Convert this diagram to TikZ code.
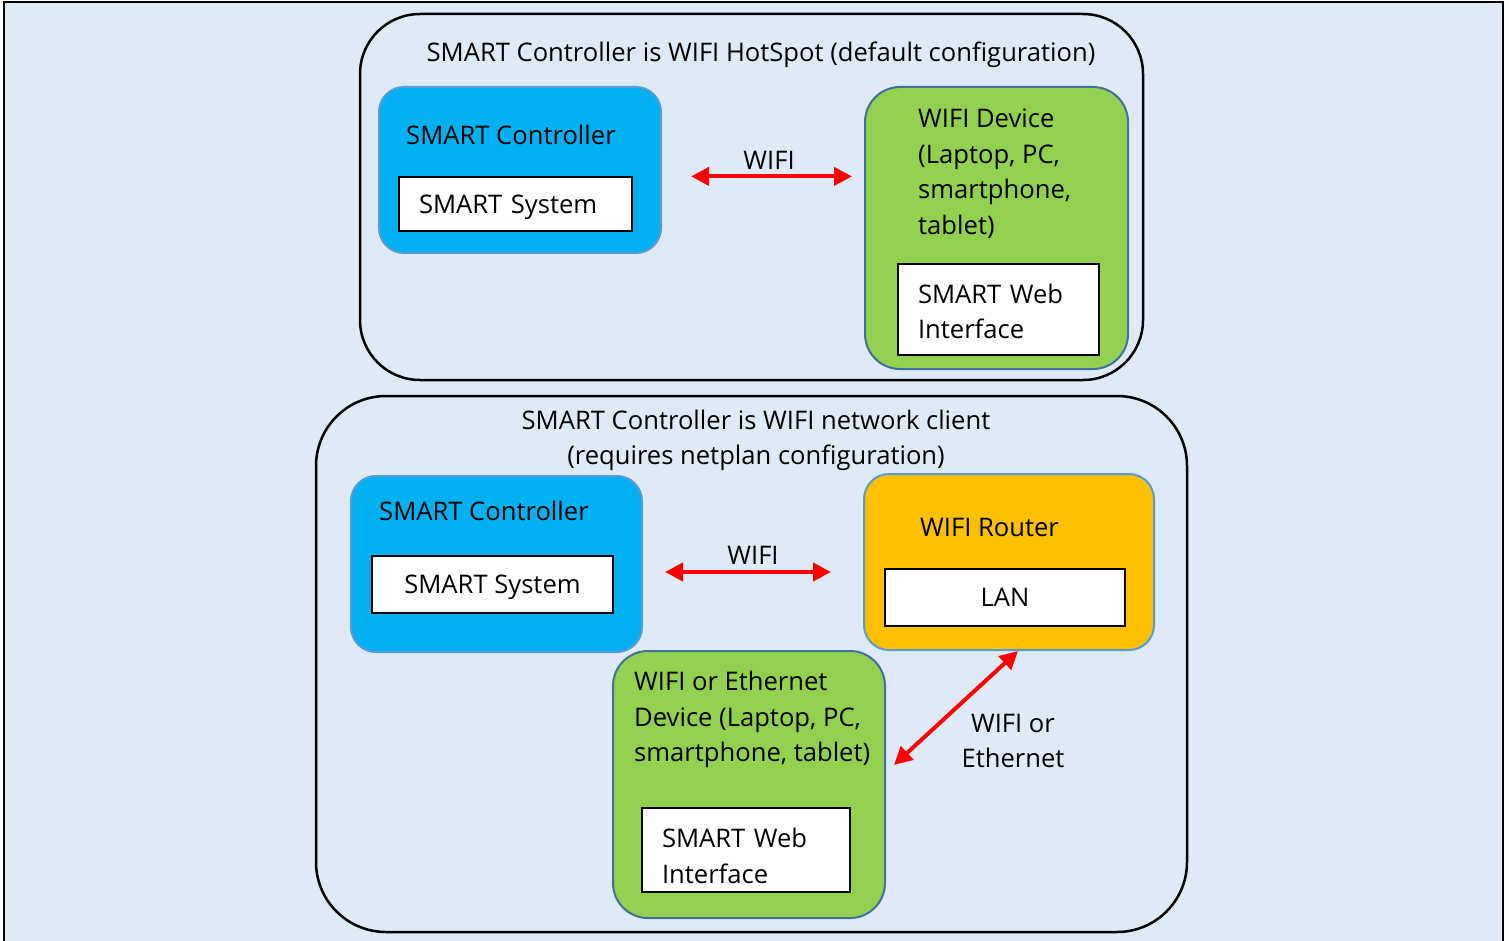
\documentclass[tikz,border=0pt]{standalone}
\usepackage{fontspec}
\setmainfont{Open Sans}
\usetikzlibrary{arrows.meta}
\definecolor{bgblue}{HTML}{DEEBF7}
\definecolor{ctrlblue}{HTML}{00B0F0}
\definecolor{devgreen}{HTML}{92D050}
\definecolor{routerorange}{HTML}{FFC000}
\definecolor{edgeblue}{HTML}{5B9BD5}
\definecolor{edgedark}{HTML}{41719C}
\tikzset{
  container/.style={draw, line width=2.5pt, rounded corners=#1},
  ctrlbox/.style={draw=edgeblue, line width=2pt, fill=ctrlblue, rounded corners=25pt},
  devbox/.style={draw=edgedark, line width=2pt, fill=devgreen, rounded corners=35pt},
  routerbox/.style={draw=edgeblue, line width=2pt, fill=routerorange, rounded corners=25pt},
  inbox/.style={draw, line width=1.2pt, fill=white},
  link/.style={draw=red, line width=4pt, {Triangle[length=18pt,width=18pt]}-{Triangle[length=18pt,width=18pt]}}
}
\begin{document}
\begin{tikzpicture}[x=1pt,y=-1pt,font=\fontsize{25.6}{35.5}\selectfont]
\useasboundingbox (0,0) rectangle (1509,941);
\draw[fill=bgblue, line width=2pt] (4,2) rectangle (1503,960);

% hotspot mode
\node (hotspot) [container=60pt, minimum width=783pt, minimum height=366pt] at (751.5,197) {};
\node (hotspottitle) [anchor=base] at (761,62) {SMART Controller is WIFI HotSpot (default configuration)};
\node (ctrl) [ctrlbox, minimum width=282pt, minimum height=166pt] at (520,170) {};
\node (ctrltext) [anchor=base west, inner sep=0] at (406,145) {SMART Controller};
\node (sys) [inbox, minimum width=233pt, minimum height=54pt, text depth=0pt, text width=193pt, inner xsep=20pt, align=left] at (515.5,204) {SMART System};
\node (device) [devbox, minimum width=263pt, minimum height=282pt] at (996.5,228) {};
\node (devicetext) [anchor=north west, inner sep=0, align=left] at (918,109) {WIFI Device\\(Laptop, PC,\\smartphone,\\tablet)};
\node (web) [inbox, minimum width=201pt, minimum height=91pt, text height=23pt, text width=161pt, inner xsep=20pt, align=left] at (998.5,309.5) {SMART Web\\Interface};
\draw[link, shorten <=29pt, shorten >=12pt] (ctrl.east |- sys.north) -- node[pos=0.53, above=2pt] {WIFI} (device.west |- sys.north);

% client mode
\node (client) [container=70pt, minimum width=871pt, minimum height=536pt] at (751.5,664) {};
\node (clienttitle) [anchor=north, inner sep=0, align=center] at (756,409.5) {SMART Controller is WIFI network client\\(requires netplan configuration)};
\node (ctrlb) [ctrlbox, minimum width=291pt, minimum height=176pt] at (496.5,564) {};
\node (ctrlbtext) [anchor=base west, inner sep=0] at (379,520) {SMART Controller};
\node (sysb) [inbox, minimum width=241pt, minimum height=57pt, text depth=0pt] at (492.5,584.5) {SMART System};
\node (router) [routerbox, minimum width=290pt, minimum height=176pt] at (1009,562) {};
\node (routertext) [anchor=base west, inner sep=0] at (920,536) {WIFI Router};
\node (lan) [inbox, minimum width=240pt, minimum height=57pt] at (1005,597.5) {LAN};
\node (deviceb) [devbox, minimum width=272pt, minimum height=267pt] at (749,784.5) {};
\node (devicebtext) [anchor=north west, inner sep=0, align=left] at (634,671) {WIFI or Ethernet\\Device (Laptop, PC,\\smartphone, tablet)};
\node (webb) [inbox, minimum width=208pt, minimum height=84pt, text height=31pt, text width=168pt, inner xsep=20pt, align=left] at (746,850) {SMART Web\\Interface};
\draw[link, shorten <=22pt, shorten >=32pt] ([yshift=-8pt]ctrlb.east) -- node[pos=0.5, above=2pt] {WIFI} ([yshift=-10pt]router.west);
\draw[link] ([xshift=9pt]router.south) -- node[midway, xshift=57pt, yshift=-33pt, align=center] {WIFI or\\Ethernet} ([shift={(8pt,19.5pt)}]deviceb.east);
\end{tikzpicture}
\end{document}
